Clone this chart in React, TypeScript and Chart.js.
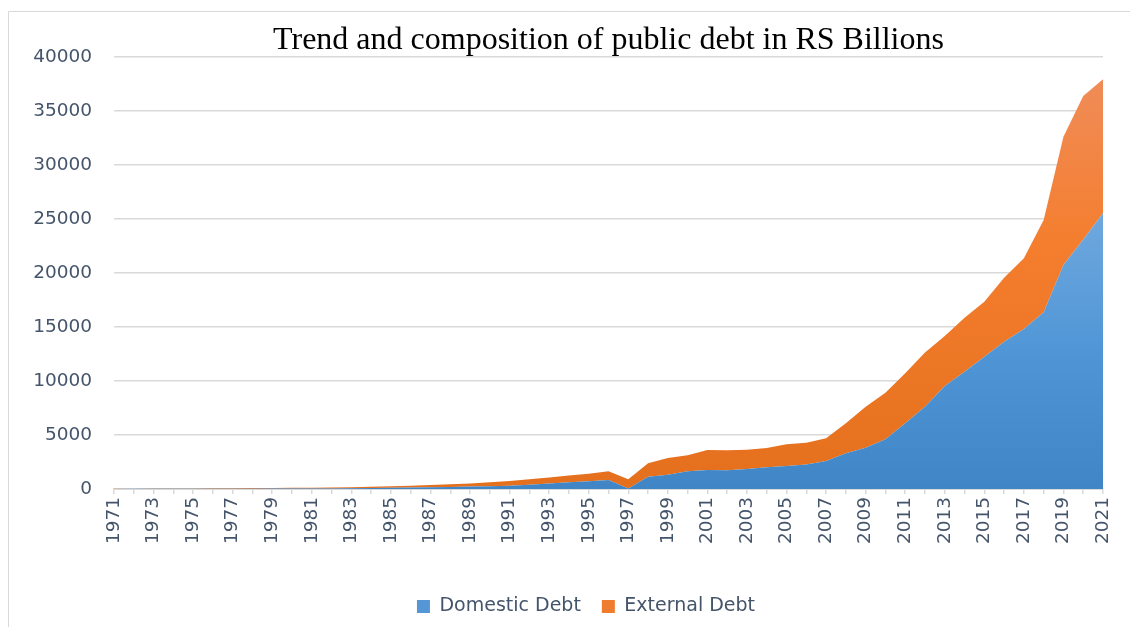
import React, { useEffect, useRef } from "react";
import { Chart, registerables } from "chart.js";

Chart.register(...registerables);

const years: string[] = [
  "1971","1972","1973","1974","1975","1976","1977","1978","1979","1980",
  "1981","1982","1983","1984","1985","1986","1987","1988","1989","1990",
  "1991","1992","1993","1994","1995","1996","1997","1998","1999","2000",
  "2001","2002","2003","2004","2005","2006","2007","2008","2009","2010",
  "2011","2012","2013","2014","2015","2016","2017","2018","2019","2020","2021",
];

const domesticDebt: number[] = [
  10, 12, 14, 17, 20, 24, 28, 33, 38, 44,
  50, 57, 65, 90, 120, 140, 160, 190, 220, 260,
  310, 400, 520, 620, 710, 830, 50, 1140, 1330, 1640,
  1760, 1730, 1850, 2010, 2130, 2280, 2590, 3300, 3830, 4600,
  6080, 7620, 9540, 10860, 12250, 13640, 14810, 16360, 20740, 23110, 25530,
];

const externalDebt: number[] = [
  15, 20, 25, 30, 35, 40, 46, 52, 60, 68,
  76, 85, 95, 110, 130, 170, 210, 250, 300, 360,
  430, 500, 540, 630, 710, 820, 850, 1240, 1540, 1480,
  1850, 1850, 1790, 1790, 2010, 2010, 2100, 2780, 3790, 4320,
  4630, 5030, 4630, 5000, 5090, 5930, 6550, 8540, 11880, 13280, 12400,
];

const yTicks: number[] = [0, 5000, 10000, 15000, 20000, 25000, 30000, 35000, 40000];

const TITLE = "Trend and composition of public debt in RS Billions";
const TEXT_COLOR = "#44546a";
const GRID_COLOR = "#d9d9d9";

const framePlugin = {
  id: "frame",
  beforeDraw(chart: any) {
    const { ctx } = chart;
    ctx.save();
    ctx.strokeStyle = GRID_COLOR;
    ctx.lineWidth = 1;
    ctx.beginPath();
    ctx.moveTo(8.5, 640);
    ctx.lineTo(8.5, 11.5);
    ctx.lineTo(1140, 11.5);
    ctx.stroke();
    ctx.restore();
  },
};

const legendShiftPlugin = {
  id: "legendShift",
  afterLayout(chart: any) {
    const lg = chart.legend;
    if (lg) {
      lg.left += 22.5;
      lg.right += 22.5;
      lg.top += 1.5;
      lg.bottom += 1.5;
    }
  },
};

export default function App() {
  const ref = useRef<HTMLCanvasElement | null>(null);

  useEffect(() => {
    if (!ref.current) return;

    const blueFill = (context: any) => {
      const chart = context.chart;
      const { ctx, chartArea, scales } = chart;
      if (!chartArea || !scales.y) return "#4a8fcf";
      const top = scales.y.getPixelForValue(Math.max(...domesticDebt));
      const bottom = chartArea.bottom;
      const g = ctx.createLinearGradient(0, top, 0, bottom);
      g.addColorStop(0, "#6fa8de");
      g.addColorStop(0.5, "#5096d6");
      g.addColorStop(1, "#4085c6");
      return g;
    };

    const orangeFill = (context: any) => {
      const chart = context.chart;
      const { ctx, chartArea, scales } = chart;
      if (!chartArea || !scales.y) return "#ee7a2a";
      const totals = domesticDebt.map((d, i) => d + externalDebt[i]);
      const top = scales.y.getPixelForValue(Math.max(...totals));
      const bottom = chartArea.bottom;
      const g = ctx.createLinearGradient(0, top, 0, bottom);
      g.addColorStop(0, "#f08c58");
      g.addColorStop(0.4, "#f47e2e");
      g.addColorStop(1, "#e46f1c");
      return g;
    };

    const chart = new Chart(ref.current, {
      type: "line",
      data: {
        labels: years,
        datasets: [
          {
            label: "Domestic Debt",
            data: domesticDebt,
            fill: "origin",
            backgroundColor: blueFill,
            borderWidth: 0,
            borderColor: "rgba(0,0,0,0)",
            pointRadius: 0,
            tension: 0,
          },
          {
            label: "External Debt",
            data: externalDebt,
            fill: "-1",
            backgroundColor: orangeFill,
            borderWidth: 0,
            borderColor: "rgba(0,0,0,0)",
            pointRadius: 0,
            tension: 0,
          },
        ],
      },
      options: {
        responsive: false,
        animation: false,
        layout: { padding: { left: 24, right: 27, top: 0, bottom: 2.5 } },
        plugins: {
          title: {
            display: true,
            text: TITLE,
            fullSize: false,
            color: "#000000",
            font: { family: "'Liberation Serif', 'Times New Roman', serif", size: 32, weight: "normal", lineHeight: 1 },
            padding: { top: 25, bottom: 0 },
          },
          legend: {
            position: "bottom",
            labels: {
              color: TEXT_COLOR,
              font: { family: "'DejaVu Sans', sans-serif", size: 19 },
              boxWidth: 13,
              boxHeight: 13,
              padding: 21,
              generateLabels: () => [
                { text: "Domestic Debt", fillStyle: "#5597d6", strokeStyle: "#5597d6", lineWidth: 0, datasetIndex: 0, fontColor: TEXT_COLOR },
                { text: "External Debt", fillStyle: "#ef7d30", strokeStyle: "#ef7d30", lineWidth: 0, datasetIndex: 1, fontColor: TEXT_COLOR },
              ],
            },
          },
          tooltip: { enabled: false },
        },
        scales: {
          x: {
            type: "category",
            offset: false,
            grid: {
              display: true,
              drawOnChartArea: false,
              drawTicks: true,
              tickLength: 5,
              color: GRID_COLOR,
              lineWidth: 1.5,
            },
            border: { display: true, color: GRID_COLOR, width: 2 },
            ticks: {
              autoSkip: false,
              maxRotation: 90,
              minRotation: 90,
              padding: 3,
              color: TEXT_COLOR,
              font: { family: "'DejaVu Sans', sans-serif", size: 18.5 },
              callback: (_v: any, i: number) => (i % 2 === 0 ? years[i] : ""),
            },
            afterFit: (scale: any) => {
              scale.height = 85.5;
            },
          },
          y: {
            stacked: true,
            min: 0,
            max: 40000,
            afterBuildTicks: (scale: any) => {
              scale.ticks = yTicks.map((v) => ({ value: v }));
            },
            grid: { color: GRID_COLOR, lineWidth: 1.5, drawTicks: false },
            border: { display: false },
            ticks: {
              padding: 22,
              color: TEXT_COLOR,
              font: { family: "'DejaVu Sans', sans-serif", size: 18.5 },
              callback: (v: any) => String(v),
            },
            afterFit: (scale: any) => {
              scale.width = 90;
            },
          },
        },
      },
      plugins: [framePlugin, legendShiftPlugin],
    });

    return () => chart.destroy();
  }, []);

  return (
    <div style={{ position: "absolute", left: 0, top: 0, width: 1130, height: 627, background: "#ffffff" }}>
      <canvas ref={ref} width={1130} height={627} />
    </div>
  );
}
